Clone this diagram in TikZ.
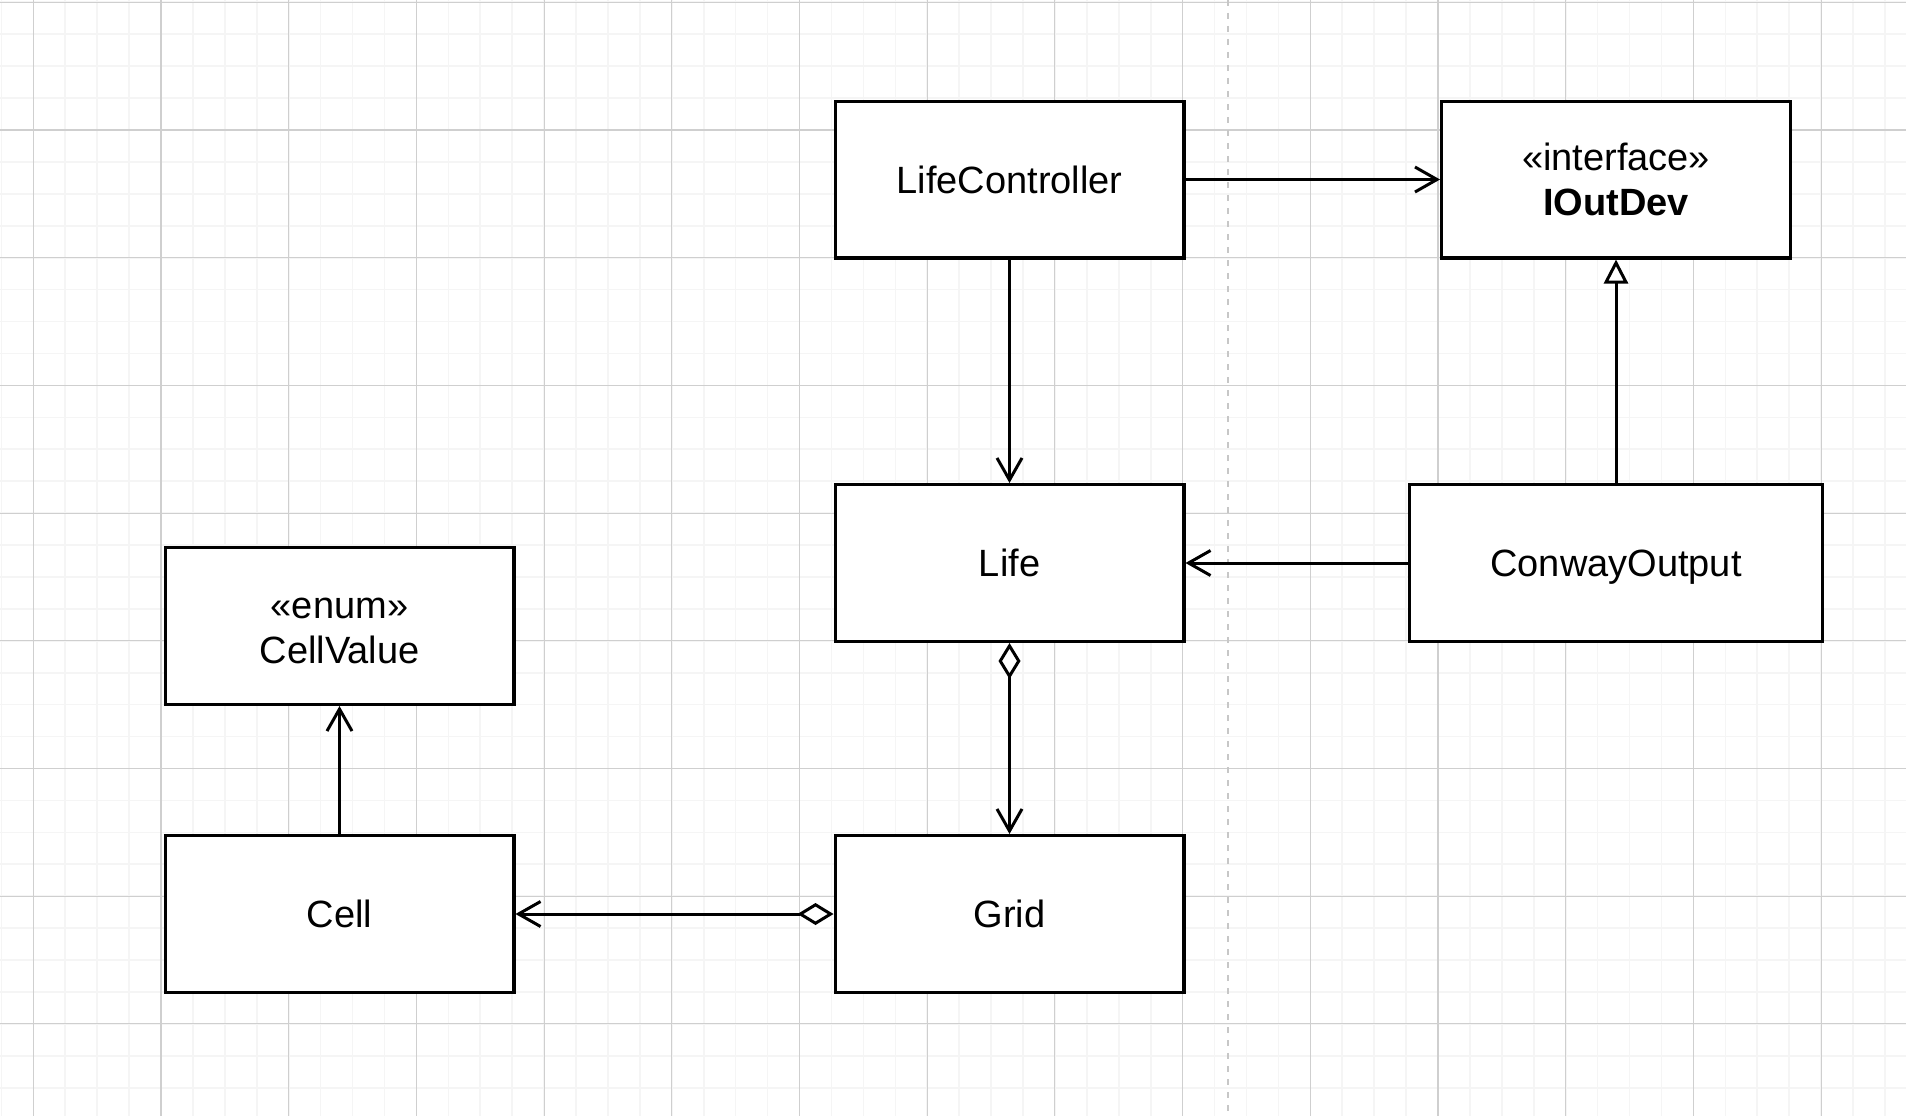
\documentclass[tikz,border=0pt]{standalone}
\usepackage{fontspec}
\setmainfont{Liberation Sans}
\usetikzlibrary{arrows.meta}
\tikzset{
  classbox/.style={draw=black, line width=3.3pt, fill=white, minimum width=348.7pt, minimum height=156.7pt, inner sep=0pt, align=center, font=\fontsize{38}{45}\selectfont},
  conn/.style={line width=3pt, draw=black},
  openarrow/.style={-{Straight Barb[length=22pt, width=25pt, line width=3pt]}},
  minorline/.style={draw=black!4, line width=1.6pt},
  majorline/.style={draw=black!19, line width=1.1pt},
  sepline/.style={draw=black!22, line width=2pt, dash pattern=on 6pt off 7pt}
}
\begin{document}
\begin{tikzpicture}[x=1pt, y=-1pt]
\useasboundingbox (0,0) rectangle (1906,1116);
\fill[white] (0,0) rectangle (1906,1116);
% minor grid
\foreach \i in {0,...,59} { \draw[minorline] ({1.4+31.925*\i},0) -- ({1.4+31.925*\i},1116); }
\foreach \j in {0,...,34} { \draw[minorline] (0,{2.3+31.925*\j}) -- (1906,{2.3+31.925*\j}); }
% major grid
\foreach \k in {0,...,14} { \draw[majorline] ({33.3+127.7*\k},0) -- ({33.3+127.7*\k},1116); }
\foreach \k in {0,...,8} { \draw[majorline] (0,{2.3+127.7*\k}) -- (1906,{2.3+127.7*\k}); }
% separator
\coordinate (septop) at (1227.5,0);
\coordinate (sepbot) at (1227.5,1116);
\draw[sepline] (septop) -- (sepbot);

% classes
\node[classbox] (lc) at (1009.5,179.5) {LifeController};
\node[classbox] (iod) at (1616,179.5) {«interface»\\\textbf{IOutDev}};
\node[classbox] (life) at (1009.5,563) {Life};
\node[classbox, minimum width=412.7pt, text depth=0pt] (co) at (1616,563) {ConwayOutput};
\node[classbox] (cv) at (339.5,626) {\rule{0pt}{31pt}«enum»\\CellValue};
\node[classbox] (cell) at (339.5,914) {Cell};
\node[classbox] (grid) at (1009.5,914) {Grid};

% connectors
\draw[conn, openarrow] (lc.east) -- (iod.west);
\draw[conn, openarrow] (lc.south) -- (life.north);
\draw[conn, -{Triangle[open, length=24pt, width=24pt, line width=3pt, fill=white]}] (co.north) -- (iod.south);
\draw[conn, openarrow] (co.west) -- (life.east);
\draw[conn, {Diamond[open, length=36pt, width=22pt, line width=3pt, fill=white]}-{Straight Barb[length=22pt, width=25pt, line width=3pt]}] (life.south) -- (grid.north);
\draw[conn, {Diamond[open, length=36pt, width=22pt, line width=3pt, fill=white]}-{Straight Barb[length=22pt, width=25pt, line width=3pt]}] (grid.west) -- (cell.east);
\draw[conn, openarrow] (cell.north) -- (cv.south);
\end{tikzpicture}
\end{document}
